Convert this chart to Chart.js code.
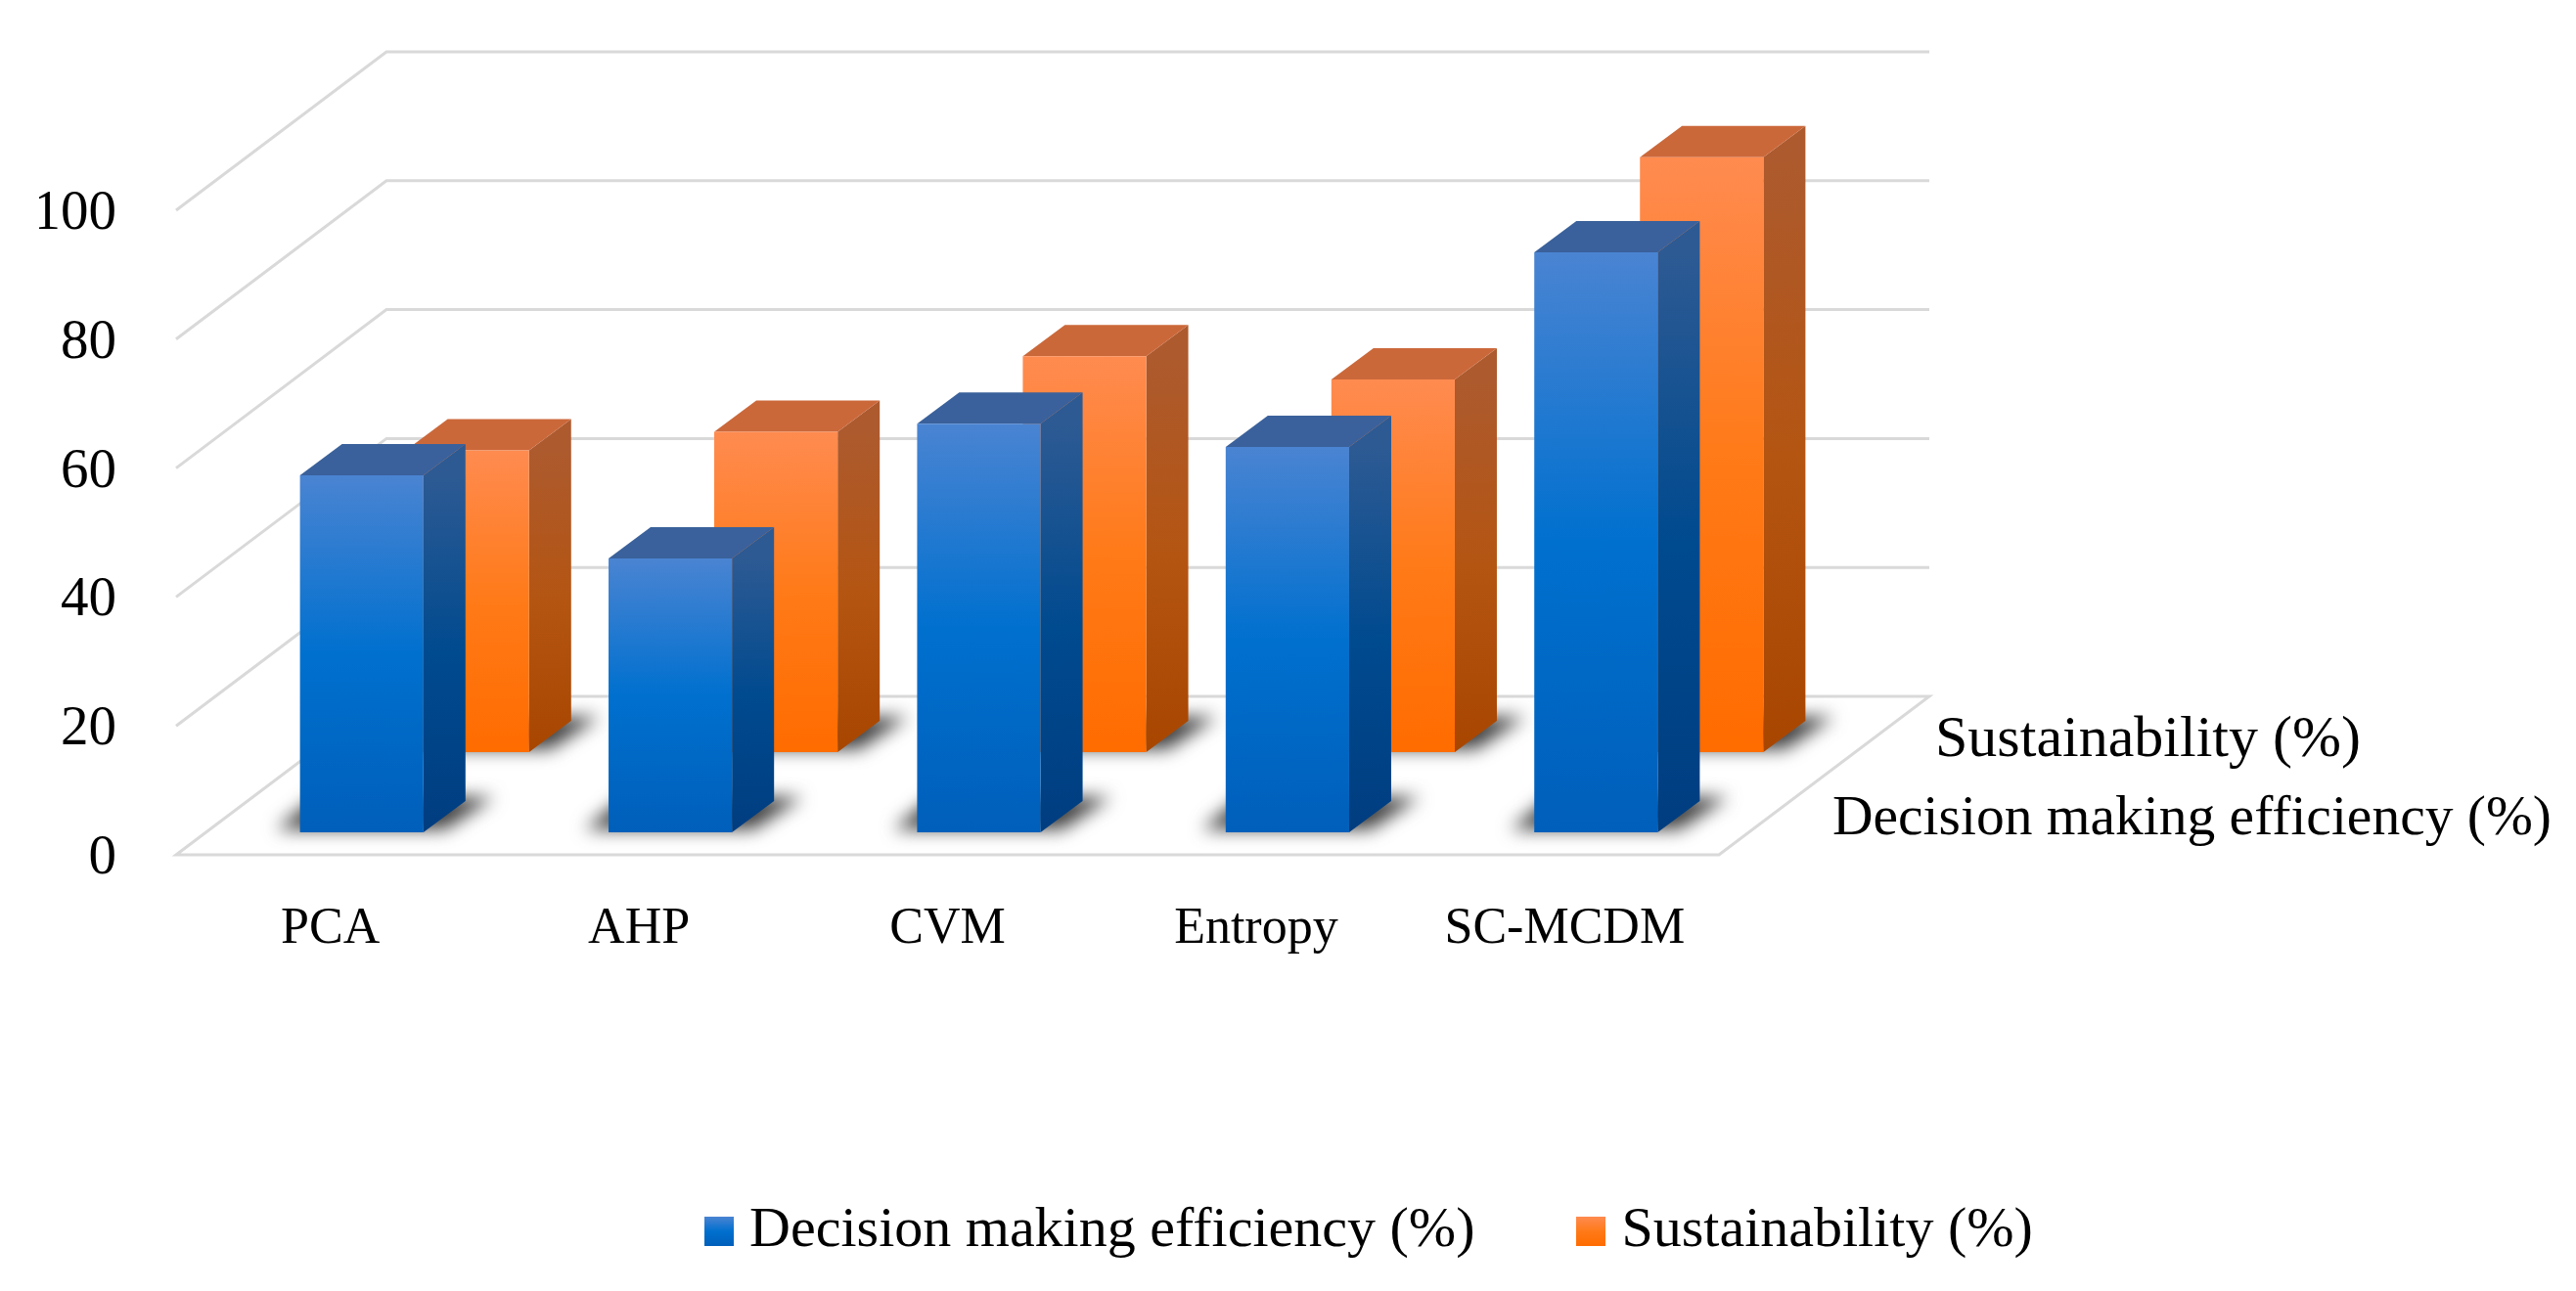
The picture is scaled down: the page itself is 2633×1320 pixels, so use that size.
<!DOCTYPE html>
<html>
<head>
<meta charset="utf-8">
<title>Chart</title>
<script src="https://cdn.jsdelivr.net/npm/chart.js@4/dist/chart.umd.js"></script>
<style>
    html, body { margin: 0; padding: 0; background: #fff; }
    canvas { display: block; }
</style>
</head>
<body>
<canvas id="myChart" width="2633" height="1320"></canvas>
<script>
const categories = ['PCA', 'AHP', 'CVM', 'Entropy', 'SC-MCDM'];
const decisionLabel = 'Decision making efficiency (%)';
const sustainLabel = 'Sustainability (%)';
const decisionValues = [55.4, 42.5, 63.4, 59.8, 90];
const sustainValues = [46.8, 49.7, 61.4, 57.8, 92.3];
const yTicks = [0, 20, 40, 60, 80, 100];

const FONT = '"Liberation Serif", serif';

// pseudo 3D: each scale is the same axis moved onto its own depth plane
const plotLeft = 180, plotRight = 1757, plotTop = 215, plotBottom = 874;
const planes = {
    x: { dx: 0, dy: 0 },
    y: { dx: 0, dy: -4 },
    yFloor: { dx: 0, dy: 0 },
    xFront: { dx: 32, dy: 0 },
    yFront: { dx: 0, dy: 23 },
    xBack: { dx: 140, dy: 0 },
    yBack: { dx: 0, dy: 105 },
    xWall: { dx: 215, dy: 0 },
    yWall: { dx: 0, dy: 162 }
};
const sideDx = 43, sideDy = 32;

const blueFace = ['#4a84d2', '#0070cf', '#005fba'];
const blueSide = ['#2d5a93', '#004a8f', '#003d80'];
const blueTop = '#3a619b';
const orangeFace = ['#ff8b50', '#ff7a18', '#ff6c00'];
const orangeSide = ['#ad5a2e', '#b45512', '#a84600'];
const orangeTop = '#cb683a';

function vGradient(ctx, top, bottom, stops) {
    let g = ctx.createLinearGradient(0, top, 0, bottom);
    g.addColorStop(0, stops[0]);
    g.addColorStop(0.5, stops[1]);
    g.addColorStop(1, stops[2]);
    return g;
}

function faceColor(stops, yID) {
    return function (c) {
        if (c.type !== 'data') return stops[1];
        let y = c.chart.scales[yID];
        return vGradient(c.chart.ctx, y.getPixelForValue(c.raw), y.getPixelForValue(0), stops);
    };
}

function swatch(stops) {
    let cv = document.createElement('canvas');
    cv.width = 30;
    cv.height = 30;
    let c = cv.getContext('2d');
    c.fillStyle = vGradient(c, 0, 30, stops);
    c.fillRect(0, 0, 30, 30);
    return cv;
}

const box3d = {
    id: 'box3d',
    afterLayout(chart) {
        Object.keys(planes).forEach(function (id) {
            let s = chart.scales[id];
            let p = planes[id];
            if (s.isHorizontal()) {
                s.left = plotLeft + p.dx;
                s.right = plotRight + p.dx;
                s.top = plotBottom;
                s.bottom = plotBottom + 110;
            } else {
                s.top = plotTop - p.dy;
                s.bottom = plotBottom - p.dy;
                s.left = 40;
                s.right = 139;
            }
            s.configure();
        });
    },
    beforeDatasetsDraw(chart) {
        let ctx = chart.ctx;
        let y = chart.scales.yFloor, yWall = chart.scales.yWall;
        let x0 = chart.scales.x, xWall = chart.scales.xWall;
        ctx.save();
        ctx.strokeStyle = '#d9d9d9';
        ctx.lineWidth = 3;
        yTicks.forEach(function (v) {
            ctx.beginPath();
            ctx.moveTo(x0.left, y.getPixelForValue(v));
            ctx.lineTo(xWall.left, yWall.getPixelForValue(v));
            ctx.lineTo(xWall.right, yWall.getPixelForValue(v));
            if (v === 0) {
                ctx.lineTo(x0.right, y.getPixelForValue(v));
                ctx.closePath();
            }
            ctx.stroke();
        });
        ctx.restore();
    },
    beforeDatasetDraw(chart, args) {
        let ctx = chart.ctx;
        let front = args.index === 0;
        let bars = args.meta.data;
        let side = front ? blueSide : orangeSide;
        ctx.save();
        ctx.filter = 'blur(9px)';
        ctx.fillStyle = '#404040';
        bars.forEach(function (b) {
            let l = b.x - b.width / 2, r = b.x + b.width / 2;
            ctx.beginPath();
            ctx.moveTo(l - 24, b.base - 3);
            ctx.lineTo(r + 22, b.base - 3);
            ctx.lineTo(r + 72, b.base - 36);
            ctx.lineTo(l + 16, b.base - 36);
            ctx.closePath();
            ctx.fill();
        });
        ctx.filter = 'none';
        bars.forEach(function (b) {
            let l = b.x - b.width / 2, r = b.x + b.width / 2;
            ctx.fillStyle = vGradient(ctx, b.y, b.base, side);
            ctx.beginPath();
            ctx.moveTo(r, b.y);
            ctx.lineTo(r + sideDx, b.y - sideDy);
            ctx.lineTo(r + sideDx, b.base - sideDy);
            ctx.lineTo(r, b.base);
            ctx.closePath();
            ctx.fill();
            ctx.fillStyle = front ? blueTop : orangeTop;
            ctx.beginPath();
            ctx.moveTo(l, b.y);
            ctx.lineTo(l + sideDx, b.y - sideDy);
            ctx.lineTo(r + sideDx, b.y - sideDy);
            ctx.lineTo(r, b.y);
            ctx.closePath();
            ctx.fill();
        });
        ctx.restore();
    },
    afterDatasetsDraw(chart) {
        // depth axis names, right of the floor
        let ctx = chart.ctx;
        ctx.save();
        ctx.fillStyle = '#000';
        ctx.textAlign = 'left';
        ctx.textBaseline = 'middle';
        ctx.font = '60px ' + FONT;
        ctx.fillText(sustainLabel, 1978, 757);
        ctx.font = '57.5px ' + FONT;
        ctx.fillText(decisionLabel, 1873, 838);
        ctx.restore();
    }
};

new Chart(document.getElementById('myChart').getContext('2d'), {
    type: 'bar',
    plugins: [box3d],
    data: {
        labels: categories,
        datasets: [
            {
                label: decisionLabel,
                data: decisionValues,
                xAxisID: 'xFront',
                yAxisID: 'yFront',
                backgroundColor: faceColor(blueFace, 'yFront'),
                grouped: false,
                barPercentage: 0.4,
                categoryPercentage: 1,
                clip: false
            },
            {
                label: sustainLabel,
                data: sustainValues,
                xAxisID: 'xBack',
                yAxisID: 'yBack',
                backgroundColor: faceColor(orangeFace, 'yBack'),
                grouped: false,
                barPercentage: 0.4,
                categoryPercentage: 1,
                clip: false
            }
        ]
    },
    options: {
        responsive: false,
        devicePixelRatio: 1,
        animation: false,
        layout: { padding: { left: 178, bottom: 22 } },
        plugins: {
            tooltip: { enabled: false },
            legend: {
                position: 'bottom',
                labels: {
                    font: { family: FONT, size: 58 },
                    color: '#000',
                    usePointStyle: true,
                    boxWidth: 4,
                    boxHeight: 30,
                    padding: 117,
                    generateLabels: function () {
                        return [
                            { text: decisionLabel, pointStyle: swatch(blueFace), fontColor: '#000', lineWidth: 0, datasetIndex: 0 },
                            { text: sustainLabel, pointStyle: swatch(orangeFace), fontColor: '#000', lineWidth: 0, datasetIndex: 1 }
                        ];
                    }
                }
            }
        },
        scales: {
            x: {
                labels: categories,
                grid: { display: false },
                border: { display: false },
                ticks: { font: { family: FONT, size: 52 }, color: '#000', padding: 37, maxRotation: 0 }
            },
            y: {
                min: yTicks[0],
                max: yTicks[yTicks.length - 1],
                grid: { display: false },
                border: { display: false },
                ticks: { stepSize: 20, font: { family: FONT, size: 57 }, color: '#000', padding: 12 }
            },
            yFloor: { display: false, min: 0, max: 100 },
            xFront: { display: false, offset: true, labels: categories },
            yFront: { display: false, min: 0, max: 100 },
            xBack: { display: false, offset: true, labels: categories },
            yBack: { display: false, min: 0, max: 100 },
            xWall: { display: false, offset: true, labels: categories },
            yWall: { display: false, min: 0, max: 100 }
        }
    }
});
</script>
</body>
</html>
